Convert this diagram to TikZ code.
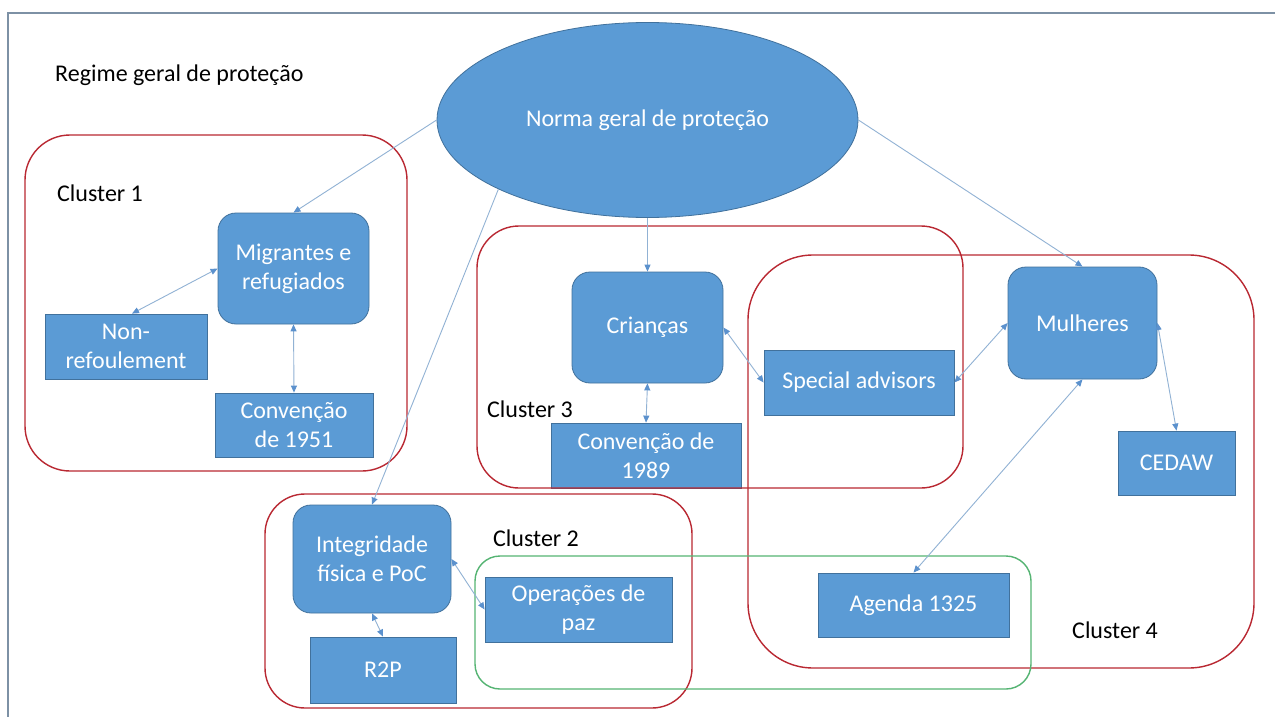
\documentclass[tikz,border=0pt]{standalone}
\usepackage{fontspec}
\setmainfont{Carlito}
\usetikzlibrary{shapes.geometric,arrows.meta}
\definecolor{boxblue}{RGB}{91,155,213}
\definecolor{boxedge}{RGB}{65,113,156}
\definecolor{linkblue}{RGB}{145,178,212}
\definecolor{tipblue}{RGB}{91,145,205}
\definecolor{clred}{RGB}{185,40,50}
\definecolor{clgreen}{RGB}{85,180,115}
\definecolor{framec}{RGB}{125,145,165}
\begin{document}
\begin{tikzpicture}[x=1pt,y=-1pt,
  font=\fontsize{24}{29}\selectfont,
  box/.style={draw=boxedge, line width=0.8pt, fill=boxblue, text=white, align=center, inner sep=0pt},
  rbox/.style={box, rounded corners=18pt},
  cluster/.style={draw=clred, line width=1.4pt, rounded corners=#1, inner sep=0pt, fill=none},
  gcluster/.style={draw=clgreen, line width=1.4pt, rounded corners=#1, inner sep=0pt, fill=none},
  lbl/.style={anchor=west, inner sep=0pt, text=black},
  link/.style={draw=linkblue, line width=0.9pt, -{Triangle[length=7pt,width=6pt,color=tipblue]}},
  dlink/.style={draw=linkblue, line width=0.9pt, {Triangle[length=7pt,width=6pt,color=tipblue]}-{Triangle[length=7pt,width=6pt,color=tipblue]}}
]
\fill[white] (0,0) rectangle (1275,717);
\useasboundingbox (0,0) rectangle (1275,717);
% frame
\draw[framec, line width=2pt] (8,717) -- (8,13) -- (1275,13);

% labels
\node[lbl] (regime) at (55,75) {Regime geral de proteção};
\node[lbl] (lc1) at (57,193) {Cluster 1};
\node[lbl] (lc3) at (487,409) {Cluster 3};
\node[lbl] (lc2) at (493,538) {Cluster 2};
\node[lbl] (lc4) at (1072,630) {Cluster 4};

% main ellipse
\node[ellipse, box, minimum width=421pt, minimum height=195pt] (norma) at (647.5,120) {Norma geral de proteção};

% boxes
\node[rbox, minimum width=151pt, minimum height=111pt] (migr) at (293.5,268.5) {Migrantes e\\refugiados};
\node[box, minimum width=162pt, minimum height=65pt] (nonref) at (126,346.5) {Non-\\refoulement};
\node[box, minimum width=158pt, minimum height=64pt] (conv51) at (294,425) {Convenção\\de 1951};
\node[rbox, minimum width=151pt, minimum height=111pt] (crian) at (647.5,327.5) {Crianças};
\node[box, minimum width=190pt, minimum height=65pt] (conv89) at (646,455.5) {Convenção de\\1989};
\node[box, minimum width=190pt, minimum height=65pt] (spec) at (859,382.5) {Special advisors};
\node[rbox, minimum width=149pt, minimum height=112pt] (mulh) at (1082.5,323) {Mulheres};
\node[box, minimum width=117pt, minimum height=64pt] (cedaw) at (1176.5,463) {CEDAW};
\node[box, minimum width=191pt, minimum height=64pt] (agenda) at (913.5,605) {Agenda 1325};
\node[rbox, minimum width=158pt, minimum height=108pt] (integ) at (372,559) {Integridade\\física e PoC};
\node[box, minimum width=146pt, minimum height=66pt] (r2p) at (383,670) {R2P};
\node[box, minimum width=187pt, minimum height=65pt] (oper) at (578.5,609.5) {Operações de\\paz};

% clusters
\node[cluster=45pt, minimum width=382pt, minimum height=336pt] (c1) at (216,303) {};
\node[cluster=42pt, minimum width=486pt, minimum height=262pt] (c3) at (720,357) {};
\node[cluster=65pt, minimum width=506pt, minimum height=413pt] (c4) at (1001,461.5) {};
\node[cluster=40pt, minimum width=427pt, minimum height=214pt] (c2) at (478.5,601) {};
\node[gcluster=25pt, minimum width=556pt, minimum height=133pt] (cg) at (753,622.5) {};

% connectors
\draw[link] (norma.west) -- (migr.north);
\draw[link] (norma.south west) -- (integ.north);
\draw[link] (norma.south) -- (crian.north);
\draw[link] (norma.east) -- (mulh.north);
\draw[dlink] (migr.west) -- ([xshift=6pt]nonref.north);
\draw[dlink] (migr.south) -- (conv51.north);
\draw[dlink] (crian.south) -- (conv89.north);
\draw[dlink] (crian.east) -- (spec.west);
\draw[dlink] (mulh.west) -- (spec.east);
\draw[dlink] (mulh.east) -- (cedaw.north);
\draw[dlink] (mulh.south) -- (agenda.north);
\draw[dlink] (integ.east) -- (oper.west);
\draw[dlink] (integ.south) -- (r2p.north);
\end{tikzpicture}
\end{document}
